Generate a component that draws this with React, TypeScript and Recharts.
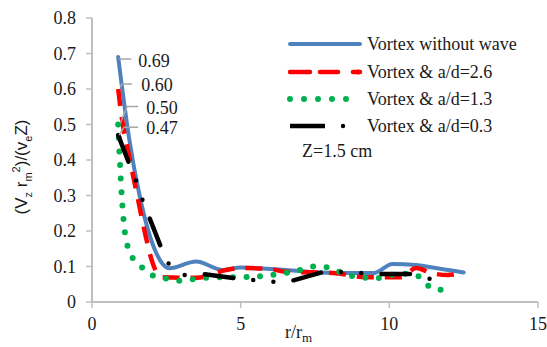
import React from 'react';
import { LineChart, Line, XAxis, YAxis, Customized } from 'recharts';

// ---- data ----
const blueX = [0.88, 1.25, 1.6, 2.15, 2.6, 3.5, 4.4, 5.0, 6.5, 8.1, 9.5, 10.1, 10.9, 11.4, 12.5];
const blueY = [0.69, 0.46, 0.3, 0.14, 0.095, 0.114, 0.09, 0.097, 0.09, 0.082, 0.082, 0.107, 0.104, 0.098, 0.083];

const redX = [0.88, 1.0, 1.25, 1.52, 1.82, 2.0, 2.33, 3.4, 3.7, 4.5, 5.0, 6.0, 6.5, 8.1, 9.2, 10.4, 10.9, 11.4, 11.95, 12.5];
const redY = [0.6, 0.52, 0.41, 0.3, 0.18, 0.12, 0.07, 0.068, 0.07, 0.09, 0.096, 0.093, 0.085, 0.082, 0.07, 0.07, 0.096, 0.082, 0.076, 0.082];

const greenX = [0.88, 1.0, 1.1, 1.3, 1.65, 2.0, 2.5, 3.0, 3.5, 4.2, 5.0, 6.0, 6.9, 7.5, 7.9, 8.6, 9.5, 10.4, 10.9, 11.2, 11.6, 12.1];
const greenY = [0.5, 0.3, 0.2, 0.135, 0.1, 0.076, 0.066, 0.06, 0.065, 0.07, 0.07, 0.076, 0.088, 0.1, 0.098, 0.076, 0.067, 0.08, 0.076, 0.053, 0.034, 0.036];

const blackX = [0.88, 1.25, 1.5, 1.7, 2.33, 2.6, 3.07, 3.6, 4.8, 5.4, 6.0, 6.6, 7.8, 8.3, 9.0, 9.6, 10.8, 11.3, 11.9];
const blackY = [0.47, 0.39, 0.338, 0.287, 0.152, 0.104, 0.076, 0.08, 0.067, 0.062, 0.057, 0.057, 0.085, 0.085, 0.082, 0.079, 0.079, 0.067, 0.05];

const seriesNames = ['Vortex without wave', 'Vortex & a/d=2.6', 'Vortex & a/d=1.3', 'Vortex & a/d=0.3'];
const xTicks = [0, 5, 10, 15];
const yTicks = [0, 0.1, 0.2, 0.3, 0.4, 0.5, 0.6, 0.7, 0.8];
const noteText = 'Z=1.5 cm';

const zip = (xs: number[], ys: number[]) => xs.map((x, i) => ({ x, y: ys[i] }));
const blueData = zip(blueX, blueY);
const redData = zip(redX, redY);
const greenData = zip(greenX, greenY);
const blackData = zip(blackX, blackY);

// ---- styles ----
const SERIF = 'Times New Roman, Liberation Serif, serif';
const SANS = 'Liberation Sans, Arial, sans-serif';
const FS = 18;
const AXIS = '#bfbfbf';
const TXT = '#1a1a1a';
const LEADER = '#a6a6a6';
const serifStyle = { fontFamily: SERIF, fontSize: FS };

const styles = [
  { color: '#4f81bd', width: 4, dash: undefined as string | undefined, cap: 'round' as const },
  { color: '#ff0000', width: 4.5, dash: '17 11', cap: 'butt' as const },
  { color: '#00b050', width: 6, dash: '0 13.5', cap: 'round' as const },
  { color: '#000000', width: 4.5, dash: '28.5 20.25 0 20.25 0 20.25', cap: 'round' as const },
];

// label leader geometry relative to first point
const leaders = [
  { pts: [[1, 2], [13, 2]], tx: 20, ty: 4 },
  { pts: [[2, -2], [4, -5], [14, -5]], tx: 23, ty: -4 },
  { pts: [[2, -1], [9, -18], [20, -18]], tx: 28, ty: -17 },
  { pts: [[1, 0], [6, -8], [20, -8]], tx: 28, ty: -7 },
];

const makeLabel = (k: number) => (props: any) => {
  const { x, y, index, value } = props;
  if (index !== 0 || x == null || y == null) return null;
  const l = leaders[k];
  const pts = l.pts.map(([dx, dy]) => `${x + dx},${y + dy}`).join(' ');
  return (
    <g key={`lbl-${k}`}>
      <polyline points={pts} fill="none" stroke={LEADER} strokeWidth={1.5} />
      <text x={x + l.tx} y={y + l.ty} dominantBaseline="central" style={serifStyle} fill={TXT}>
        {Number(value).toFixed(2)}
      </text>
    </g>
  );
};

const LegendBox = () => {
  const rows = [44, 72, 99, 126];
  const x0 = 290;
  const x1 = 360;
  return (
    <g>
      {rows.map((ry, i) => {
        const s = styles[i];
        return (
          <g key={i}>
            <line
              x1={x0}
              y1={ry}
              x2={x1}
              y2={ry}
              stroke={s.color}
              strokeWidth={s.width}
              strokeDasharray={i === 0 ? undefined : i === 1 ? '20 10 18 15' : i === 2 ? '0 14' : '35 16 0 100'}
              strokeLinecap={i === 3 ? 'butt' : 'round'}
            />
            {i === 3 && <circle cx={343} cy={ry} r={2.2} fill="#000" />}
            {i === 1 && <circle cx={358} cy={ry} r={2.5} fill="#ff0000" />}
            <text x={367} y={ry} dominantBaseline="central" style={serifStyle} fill={TXT}>
              {seriesNames[i]}
            </text>
          </g>
        );
      })}
      <text x={302} y={151} dominantBaseline="central" style={serifStyle} fill={TXT}>
        {noteText}
      </text>
    </g>
  );
};

const AxisTitles = () => (
  <g>
    <text x={285} y={338} style={serifStyle} fill={TXT}>
      r/r<tspan dy={4} style={{ fontSize: 13 }}>m</tspan>
    </text>
    <g transform="translate(27,167) rotate(-90)">
      <text x={0} y={0} textAnchor="middle" style={{ fontFamily: SANS, fontSize: 17 }} fill={TXT}>
        <tspan>(V</tspan>
        <tspan dy={5} style={{ fontSize: 11 }}>z</tspan>
        <tspan dy={-5}> r</tspan>
        <tspan dy={5} style={{ fontSize: 11 }}>m</tspan>
        <tspan dy={-12} style={{ fontSize: 11 }}>2</tspan>
        <tspan dy={7}>)/(v</tspan>
        <tspan dy={5} style={{ fontSize: 11 }}>e</tspan>
        <tspan dy={-5}>Z)</tspan>
      </text>
    </g>
  </g>
);

const tickStyle = { style: serifStyle, fill: TXT };

export default function App() {
  const series = [blueData, redData, greenData, blackData];
  return (
    <div style={{ position: 'absolute', left: 0, top: 0, width: 547, height: 347, background: '#fff' }}>
      <LineChart width={547} height={347} margin={{ top: 18, right: 9, bottom: 0, left: 0 }}>
        <XAxis
          type="number"
          dataKey="x"
          domain={[0, 15]}
          ticks={xTicks}
          allowDataOverflow
          height={45}
          tickSize={6}
          tickMargin={9}
          tick={tickStyle}
          axisLine={{ stroke: AXIS, strokeWidth: 2 }}
          tickLine={{ stroke: AXIS, strokeWidth: 1.5 }}
        />
        <YAxis
          type="number"
          dataKey="y"
          domain={[0, 0.8]}
          ticks={yTicks}
          allowDataOverflow
          width={92}
          tickSize={6}
          tickMargin={10}
          tick={tickStyle}
          tickFormatter={(v: number) => (v === 0 ? '0' : v.toFixed(1))}
          axisLine={{ stroke: AXIS, strokeWidth: 2 }}
          tickLine={{ stroke: AXIS, strokeWidth: 1.5 }}
        />
        {series.map((d, i) => (
          <Line
            key={i}
            data={d}
            dataKey="y"
            name={seriesNames[i]}
            type={i === 3 ? 'linear' : 'monotone'}
            stroke={styles[i].color}
            strokeWidth={styles[i].width}
            strokeDasharray={styles[i].dash}
            strokeLinecap={styles[i].cap}
            strokeLinejoin="round"
            dot={false}
            activeDot={false}
            isAnimationActive={false}
            label={makeLabel(i)}
          />
        ))}
        <Customized component={LegendBox} />
        <Customized component={AxisTitles} />
      </LineChart>
    </div>
  );
}
